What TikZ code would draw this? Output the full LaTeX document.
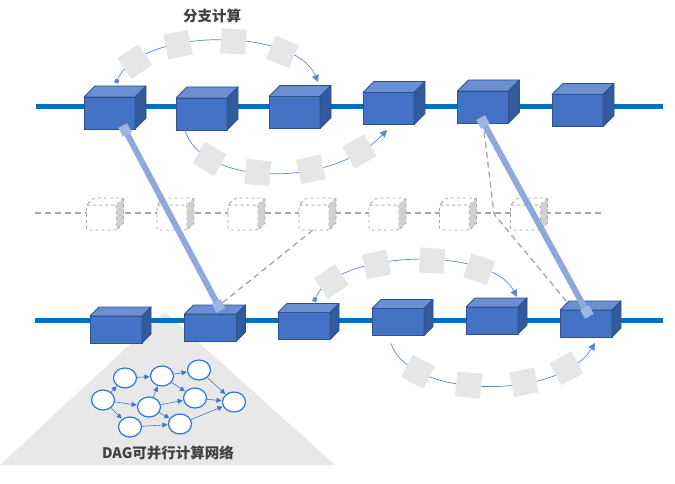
\documentclass[tikz,border=0pt]{standalone}
\usepackage{fontspec}
\newfontfamily\cjk{Noto Sans CJK SC}
\usetikzlibrary{calc,shapes.geometric,arrows.meta}
\definecolor{cubeblue}{HTML}{4472C4}
\definecolor{cubetopc}{HTML}{6A8FD3}
\definecolor{cubesidec}{HTML}{345A9E}
\definecolor{cubeedge}{HTML}{2F528F}
\definecolor{mainline}{HTML}{0070C0}
\definecolor{thickl}{HTML}{8EAADB}
\definecolor{thicksq}{HTML}{9DB6E2}
\definecolor{sqgray}{HTML}{E6E6E6}
\definecolor{dashg}{HTML}{A6A6A6}
\definecolor{dside}{HTML}{D0D0D0}
\definecolor{trig}{HTML}{E8E8E8}
\definecolor{arcc}{HTML}{5B87D6}
\definecolor{dagc}{HTML}{2E75D6}
\definecolor{txtc}{HTML}{404040}
\tikzset{
  cubefront/.style={draw=cubeedge, fill=cubeblue, line width=0.8pt, inner sep=0pt, outer sep=0pt},
  cubetop/.style={draw=cubeedge, fill=cubetopc, line width=0.8pt, line join=round},
  cubeside/.style={draw=cubeedge, fill=cubesidec, line width=0.8pt, line join=round},
  dfront/.style={draw=dashg, dashed, fill=white, line width=0.8pt, inner sep=0pt, outer sep=0pt, minimum width=30pt, minimum height=25pt, rounded corners=2pt},
  dtop/.style={draw=dashg, dashed, fill=white, line width=0.8pt, rounded corners=2pt},
  dsidest/.style={fill=dside, rounded corners=2pt},
  mainln/.style={draw=mainline, line width=5pt},
  midln/.style={draw=dashg, dash pattern=on 6pt off 4pt, line width=1.3pt},
  dashc/.style={draw=dashg, dash pattern=on 6pt off 4pt, line width=1.3pt},
  thickln/.style={draw=thickl, line width=6pt},
  endsq/.style={fill=thicksq, minimum size=10pt, inner sep=0pt, sloped},
  arcln/.style={draw=arcc, line width=0.7pt},
  gsq/.style={fill=sqgray, minimum size=25pt, inner sep=0pt, sloped},
  dagnode/.style={ellipse, draw=dagc, fill=white, line width=1.2pt, minimum width=23pt, minimum height=20pt, inner sep=0pt},
  dagedge/.style={draw=cubeblue, line width=0.6pt, -{Triangle[length=5pt,width=5pt]}, shorten >=0.5pt},
  lbl/.style={text=txtc, inner sep=0pt}
}
\newcommand{\mycube}[6]{%
  \node[cubefront, minimum width=#4pt, minimum height=#5pt] (#1) at (#2,#3) {};
  \filldraw[cubetop] (#1.north west) -- ++(#6,-#6) -- ($(#1.north east)+(#6,-#6)$) -- (#1.north east) -- cycle;
  \filldraw[cubeside] (#1.north east) -- ++(#6,-#6) -- ($(#1.south east)+(#6,-#6)$) -- (#1.south east) -- cycle;
}
\newcommand{\mydcube}[3]{%
  \node[dfront] (#1) at (#2,#3) {};
  \filldraw[dtop] (#1.north west) -- ++(7,-7) -- ($(#1.north east)+(7,-7)$) -- (#1.north east) -- cycle;
  \fill[dsidest] (#1.north east) -- ++(7,-7) -- ($(#1.south east)+(7,-7)$) -- (#1.south east) -- cycle;
  \draw[dashg, dashed, line width=0.8pt] ($(#1.north east)+(7,-7)$) -- ($(#1.south east)+(7,-7)$) -- (#1.south east);
}
\begin{document}
\begin{tikzpicture}[x=1pt,y=-1pt]
\useasboundingbox[fill=white] (0,0) rectangle (675,484);
% triangle
\fill[trig] (0,465) -- (165,312) -- (335,465) -- cycle;
% lines
\coordinate (tl0) at (36,107); \coordinate (tl1) at (663,107);
\coordinate (bl0) at (35,320); \coordinate (bl1) at (663,320);
\coordinate (ml0) at (35,213); \coordinate (ml1) at (603,213);
\draw[mainln] (tl0) -- (tl1);
\draw[mainln] (bl0) -- (bl1);
\draw[midln] (ml0) -- (ml1);
% middle dashed cubes
\mydcube{m1}{101.5}{217.5}
\mydcube{m2}{172}{217.5}
\mydcube{m3}{243}{217.5}
\mydcube{m4}{314}{217.5}
\mydcube{m5}{384}{217.5}
\mydcube{m6}{454.5}{217.5}
\mydcube{m7}{525.5}{217.5}
% top cubes
\mycube{t1}{109.5}{113}{51}{32}{11}
\mycube{t2}{201.5}{114}{51}{32}{11}
\mycube{t3}{294.5}{112.5}{51}{32}{11}
\mycube{t4}{388.5}{108.5}{51}{32}{11}
\mycube{t5}{483}{107}{51}{32}{11}
\mycube{t6}{577.5}{110.5}{51}{32}{11}
% bottom cubes
\mycube{b1}{116}{329.5}{52}{27}{9}
\mycube{b2}{210.5}{327.5}{52}{27}{9}
\mycube{b3}{304}{326}{52}{27}{9}
\mycube{b4}{398}{322}{52}{27}{9}
\mycube{b5}{492}{320.5}{52}{27}{9}
\mycube{b6}{586}{323.5}{52}{27}{9}
% arcs
\draw[arcln, {Square[length=4pt,width=4pt]}-{Triangle[length=7pt,width=7pt]}]
  ($(t1.north)+(6.5,-14)$) .. controls (140,27) and (295,27) .. ($(t3.north)+(23.5,-14.5)$)
  node[gsq,pos=0.15]{} node[gsq,pos=0.35]{} node[gsq,pos=0.56]{} node[gsq,pos=0.76]{};
\draw[arcln, -{Triangle[length=7pt,width=7pt]}]
  ($(t2.south)+(-16.5,0)$) .. controls (200,185) and (330,190) .. ($(t4.south)+(-1.5,5.5)$)
  node[gsq,pos=0.22]{} node[gsq,pos=0.45]{} node[gsq,pos=0.66]{} node[gsq,pos=0.86]{};
\draw[arcln, {Square[length=4pt,width=4pt]}-{Triangle[length=7pt,width=7pt]}]
  ($(b3.north)+(10,-11)$) .. controls (335,250) and (490,245) .. ($(b5.north)+(25,-10)$)
  node[gsq,pos=0.15]{} node[gsq,pos=0.36]{} node[gsq,pos=0.57]{} node[gsq,pos=0.76]{};
\draw[arcln, -{Triangle[length=7pt,width=7pt]}]
  ($(b4.south)+(-7,8)$) .. controls (410,400) and (560,400) .. ($(b6.south)+(9,6)$)
  node[gsq,pos=0.21]{} node[gsq,pos=0.43]{} node[gsq,pos=0.64]{} node[gsq,pos=0.82]{};
% dashed connectors
\coordinate (dk) at (494,214);
\coordinate (jb2) at ($(b2.north)+(8,-8)$);
\draw[dashc] ($(t5.south)+(0,-1)$) -- (dk) -- ($(b6.north west)+(7,-8)$);
\draw[dashc] ($(m4.south)+(-1,0)$) -- (jb2);
% thick lines
\draw[thickln] ($(t1.south)+(15.5,1)$) -- (jb2)
  node[endsq,pos=0]{} node[endsq,pos=1]{};
\draw[thickln] ($(t5.south)+(0,-1)$) -- ($(b6.north)+(1,2)$)
  node[endsq,pos=0]{} node[endsq,pos=1]{};
% DAG
\node[dagnode] (n1) at (103,400) {};
\node[dagnode] (n2) at (125,378) {};
\node[dagnode] (n3) at (130,427) {};
\node[dagnode] (n4) at (149,407) {};
\node[dagnode] (n5) at (162,376) {};
\node[dagnode] (n6) at (180,424) {};
\node[dagnode] (n7) at (199,370) {};
\node[dagnode] (n8) at (195,398) {};
\node[dagnode] (n9) at (234,402) {};
\draw[dagedge] (n1) -- (n2);
\draw[dagedge] (n1) -- (n4);
\draw[dagedge] (n1) -- (n3);
\draw[dagedge] (n2) -- (n5);
\draw[dagedge] (n4) -- (n5);
\draw[dagedge] (n5) -- (n7);
\draw[dagedge] (n5) -- (n8);
\draw[dagedge] (n4) -- (n8);
\draw[dagedge] (n4) -- (n6);
\draw[dagedge] (n3) -- (n6);
\draw[dagedge] (n7) -- (n9);
\draw[dagedge] (n8) -- (n9);
\draw[dagedge] (n6) -- (n9);
% labels
\node[lbl, font=\cjk\bfseries\fontsize{14.5}{16}\selectfont] (title) at (212,16) {分支计算};
\node[lbl, font=\cjk\bfseries\fontsize{14.5}{16}\selectfont] (daglbl) at (168,453) {DAG可并行计算网络};
\end{tikzpicture}
\end{document}
